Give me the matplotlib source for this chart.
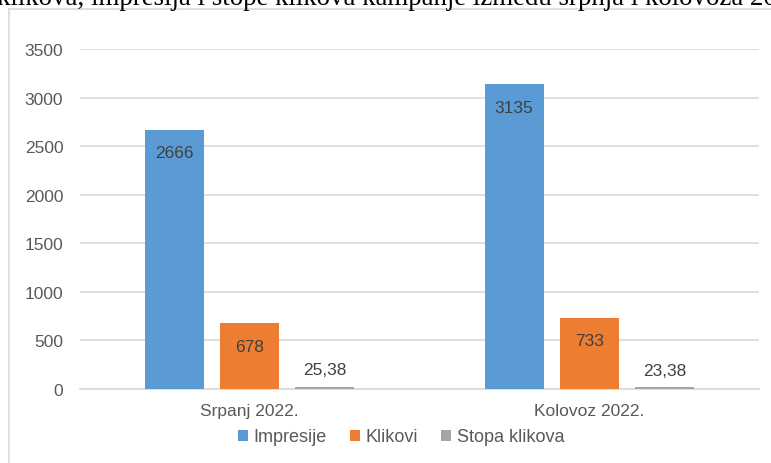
import matplotlib
matplotlib.use("Agg")
import matplotlib.pyplot as plt
import numpy as np
from matplotlib.lines import Line2D
from matplotlib.patches import Patch

categories = ["Srpanj 2022.", "Kolovoz 2022."]
series_names = ["Impresije", "Klikovi", "Stopa klikova"]
impresije = [2666, 3135]
klikovi = [678, 733]
stopa = [25.38, 23.38]
stopa_labels = ["25,38", "23,38"]
y_ticks = [0, 500, 1000, 1500, 2000, 2500, 3000, 3500]
title = "klikova, impresija i stope klikova kampanje između srpnja i kolovoza 2022."

colors = ["#5B9BD5", "#ED7D31", "#A5A5A5"]
W, H = 771, 464
fig = plt.figure(figsize=(W / 100, H / 100), dpi=100)
fig.patch.set_facecolor("white")

font = ["Liberation Sans", "DejaVu Sans"]
fs = 12.5

# frame
fig.add_artist(Line2D([9 / W, 9 / W], [0, 1 - 10 / H], color="#D9D9D9", lw=1.2, transform=fig.transFigure))
fig.add_artist(Line2D([9 / W, 1], [1 - 10 / H, 1 - 10 / H], color="#D9D9D9", lw=1.2, transform=fig.transFigure))

# clipped title
fig.text(-3 / W, 1 - 5 / H, title, ha="left", va="baseline", fontsize=19.4,
         family=["Liberation Serif", "DejaVu Serif"], color="black")

ax = fig.add_axes([80 / W, 1 - 390 / H, (759 - 80) / W, 340 / H])
x = np.arange(len(categories))
bw = 0.174
step = 0.221
data = [impresije, klikovi, stopa]
bar_sets = []
for i, (vals, c) in enumerate(zip(data, colors)):
    b = ax.bar(x + (i - 1) * step, vals, width=bw, color=c, zorder=3)
    bar_sets.append(b)

for i in range(2):
    for rect, v in zip(bar_sets[i], data[i]):
        ax.annotate(f"{v}", (rect.get_x() + rect.get_width() / 2, rect.get_height()),
                    xytext=(0, -16.5), textcoords="offset points", ha="center", va="center",
                    fontsize=fs, family=font, color="#404040", zorder=4)
for rect, lab in zip(bar_sets[2], stopa_labels):
    ax.annotate(lab, (rect.get_x() + rect.get_width() / 2, rect.get_height()),
                xytext=(0, 12), textcoords="offset points", ha="center", va="center",
                fontsize=fs, family=font, color="#404040", zorder=4)

ax.set_xlim(-0.5, 1.5)
ax.set_ylim(0, 3500)
ax.set_yticks(y_ticks)
ax.set_yticklabels([str(t) for t in y_ticks], family=font, fontsize=fs, color="#595959")
ax.set_xticks(x)
ax.set_xticklabels(categories, family=font, fontsize=fs, color="#595959")
ax.tick_params(axis="y", length=0, pad=12)
ax.tick_params(axis="x", length=0, pad=10)
ax.grid(axis="y", color="#D9D9D9", lw=1.2, zorder=0)
for s in ["left", "right", "top"]:
    ax.spines[s].set_visible(False)
ax.spines["bottom"].set_color("#D9D9D9")
ax.spines["bottom"].set_linewidth(1.2)

handles = [Patch(facecolor=c, edgecolor="none", label=n) for c, n in zip(colors, series_names)]
leg = fig.legend(handles=handles, loc="center", bbox_to_anchor=(401 / W, 1 - 438 / H), ncol=3,
                 frameon=False, handlelength=0.55, handleheight=0.55, handletextpad=0.3,
                 columnspacing=1.3, prop={"family": font, "size": 13})
for t in leg.get_texts():
    t.set_color("#595959")

fig.savefig("out.png", dpi=100, facecolor="white")
